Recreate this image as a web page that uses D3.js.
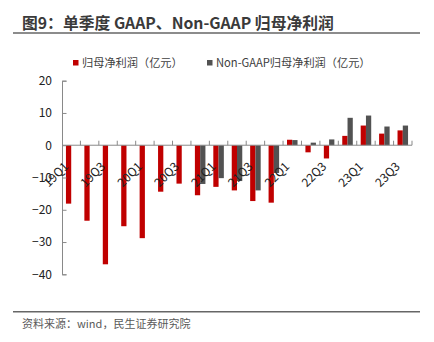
<!DOCTYPE html>
<html>
<head>
<meta charset="utf-8">
<script src="https://cdn.jsdelivr.net/npm/d3@7"></script>
<style>
  body { margin: 0; background: #fff; }
  svg { display: block; font-family: "Noto Sans CJK SC", "Noto Sans", sans-serif; }
</style>
</head>
<body>
<svg id="chart" width="434" height="342"></svg>
<script>
// quarterly net profit, 100m CNY
var quarters = ['19Q1', '19Q2', '19Q3', '19Q4', '20Q1', '20Q2', '20Q3', '20Q4',
  '21Q1', '21Q2', '21Q3', '21Q4', '22Q1', '22Q2', '22Q3', '22Q4', '23Q1', '23Q2', '23Q3']
var gaap = [-18.1, -23.4, -36.9, -25.1, -28.8, -14.4, -11.9, -15.5, -12.9, -14.0,
  -17.3, -17.8, 1.7, -2.2, -4.1, 2.9, 6.1, 3.6, 4.6]
var nonGaap = [null, null, null, null, null, null, null, -12.0, -10.2, -11.1,
  -14.0, -8.6, 1.6, 0.8, 1.8, 8.5, 9.2, 5.8, 6.1]
var yTicks = [-40, -30, -20, -10, 0, 10, 20]
var seriesNames = ['归母净利润（亿元）', 'Non-GAAP归母净利润（亿元）']
var colors = ['#c00000', '#525252']

var svg = d3.select('#chart')

// header
svg.append('text')
  .attr('x', 22).attr('y', 29)
  .attr('font-size', 15.8).attr('font-weight', 'bold').attr('fill', '#3a3a3a')
  .text('图9：单季度 GAAP、Non-GAAP 归母净利润')
svg.append('line')
  .attr('x1', 13).attr('x2', 420).attr('y1', 33).attr('y2', 33)
  .attr('stroke', '#666').attr('stroke-width', 1.5)

// legend
var legendX = [73, 207]
seriesNames.forEach(function (name, i) {
  var g = svg.append('g').attr('transform', 'translate(' + legendX[i] + ',60)')
  g.append('rect').attr('width', 5.5).attr('height', 5.5).attr('fill', colors[i])
  g.append('text').attr('x', 9).attr('y', 7).attr('font-size', 11.2).attr('fill', '#404040').text(name)
})

var x = d3.scaleBand().domain(quarters).range([62, 412])
var x1 = d3.scaleBand().domain([0, 1]).range([0, x.bandwidth()]).paddingOuter(0.75)
var y = d3.scaleLinear().domain([-40, 20]).range([274.3, 80.7])

// bars
var rows = quarters.map(function (q, i) { return { q: q, vals: [gaap[i], nonGaap[i]] } })
var groups = svg.append('g').selectAll('g').data(rows).join('g')
  .attr('transform', function (d) { return 'translate(' + x(d.q) + ',0)' })
groups.selectAll('rect')
  .data(function (d) { return d.vals.map(function (v, k) { return { v: v, k: k } }).filter(function (e) { return e.v !== null }) })
  .join('rect')
  .attr('x', function (e) { return x1(e.k) })
  .attr('width', x1.bandwidth())
  .attr('y', function (e) { return y(Math.max(0, e.v)) })
  .attr('height', function (e) { return Math.abs(y(e.v) - y(0)) })
  .attr('fill', function (e) { return colors[e.k] })

// y axis
var yAxis = svg.append('g').attr('transform', 'translate(62,0)')
  .call(d3.axisLeft(y).tickValues(yTicks).tickSize(-4.5).tickPadding(10))
yAxis.selectAll('line, path').attr('stroke', '#898989')
yAxis.selectAll('text').attr('font-size', 12).attr('fill', '#222').attr('font-family', '"Noto Sans CJK SC", sans-serif')

// x axis line and boundary ticks
var xAxis = svg.append('g')
xAxis.append('line').attr('x1', 62).attr('x2', 412).attr('y1', y(0)).attr('y2', y(0))
  .attr('stroke', '#898989')
xAxis.selectAll('line.tk').data(quarters).join('line').attr('class', 'tk')
  .attr('x1', function (q) { return x(q) + x.bandwidth() }).attr('x2', function (q) { return x(q) + x.bandwidth() })
  .attr('y1', y(0)).attr('y2', y(0) - 4.5).attr('stroke', '#898989')

xAxis.selectAll('text').data(quarters.filter(function (q, i) { return i % 2 === 0 })).join('text')
  .attr('transform', function (q) {
    return 'translate(' + (x(q) + x.bandwidth() / 2 - 2) + ',' + (y(0) + 22) + ') rotate(-45)'
  })
  .attr('text-anchor', 'end').attr('font-size', 12).attr('fill', '#222')
  .text(function (q) { return q })

// footer
svg.append('line')
  .attr('x1', 13).attr('x2', 420).attr('y1', 311.7).attr('y2', 311.7)
  .attr('stroke', '#666').attr('stroke-width', 1.5)
svg.append('text')
  .attr('x', 22).attr('y', 328)
  .attr('font-size', 11).attr('fill', '#595959')
  .text('资料来源：wind，民生证券研究院')
</script>
</body>
</html>
